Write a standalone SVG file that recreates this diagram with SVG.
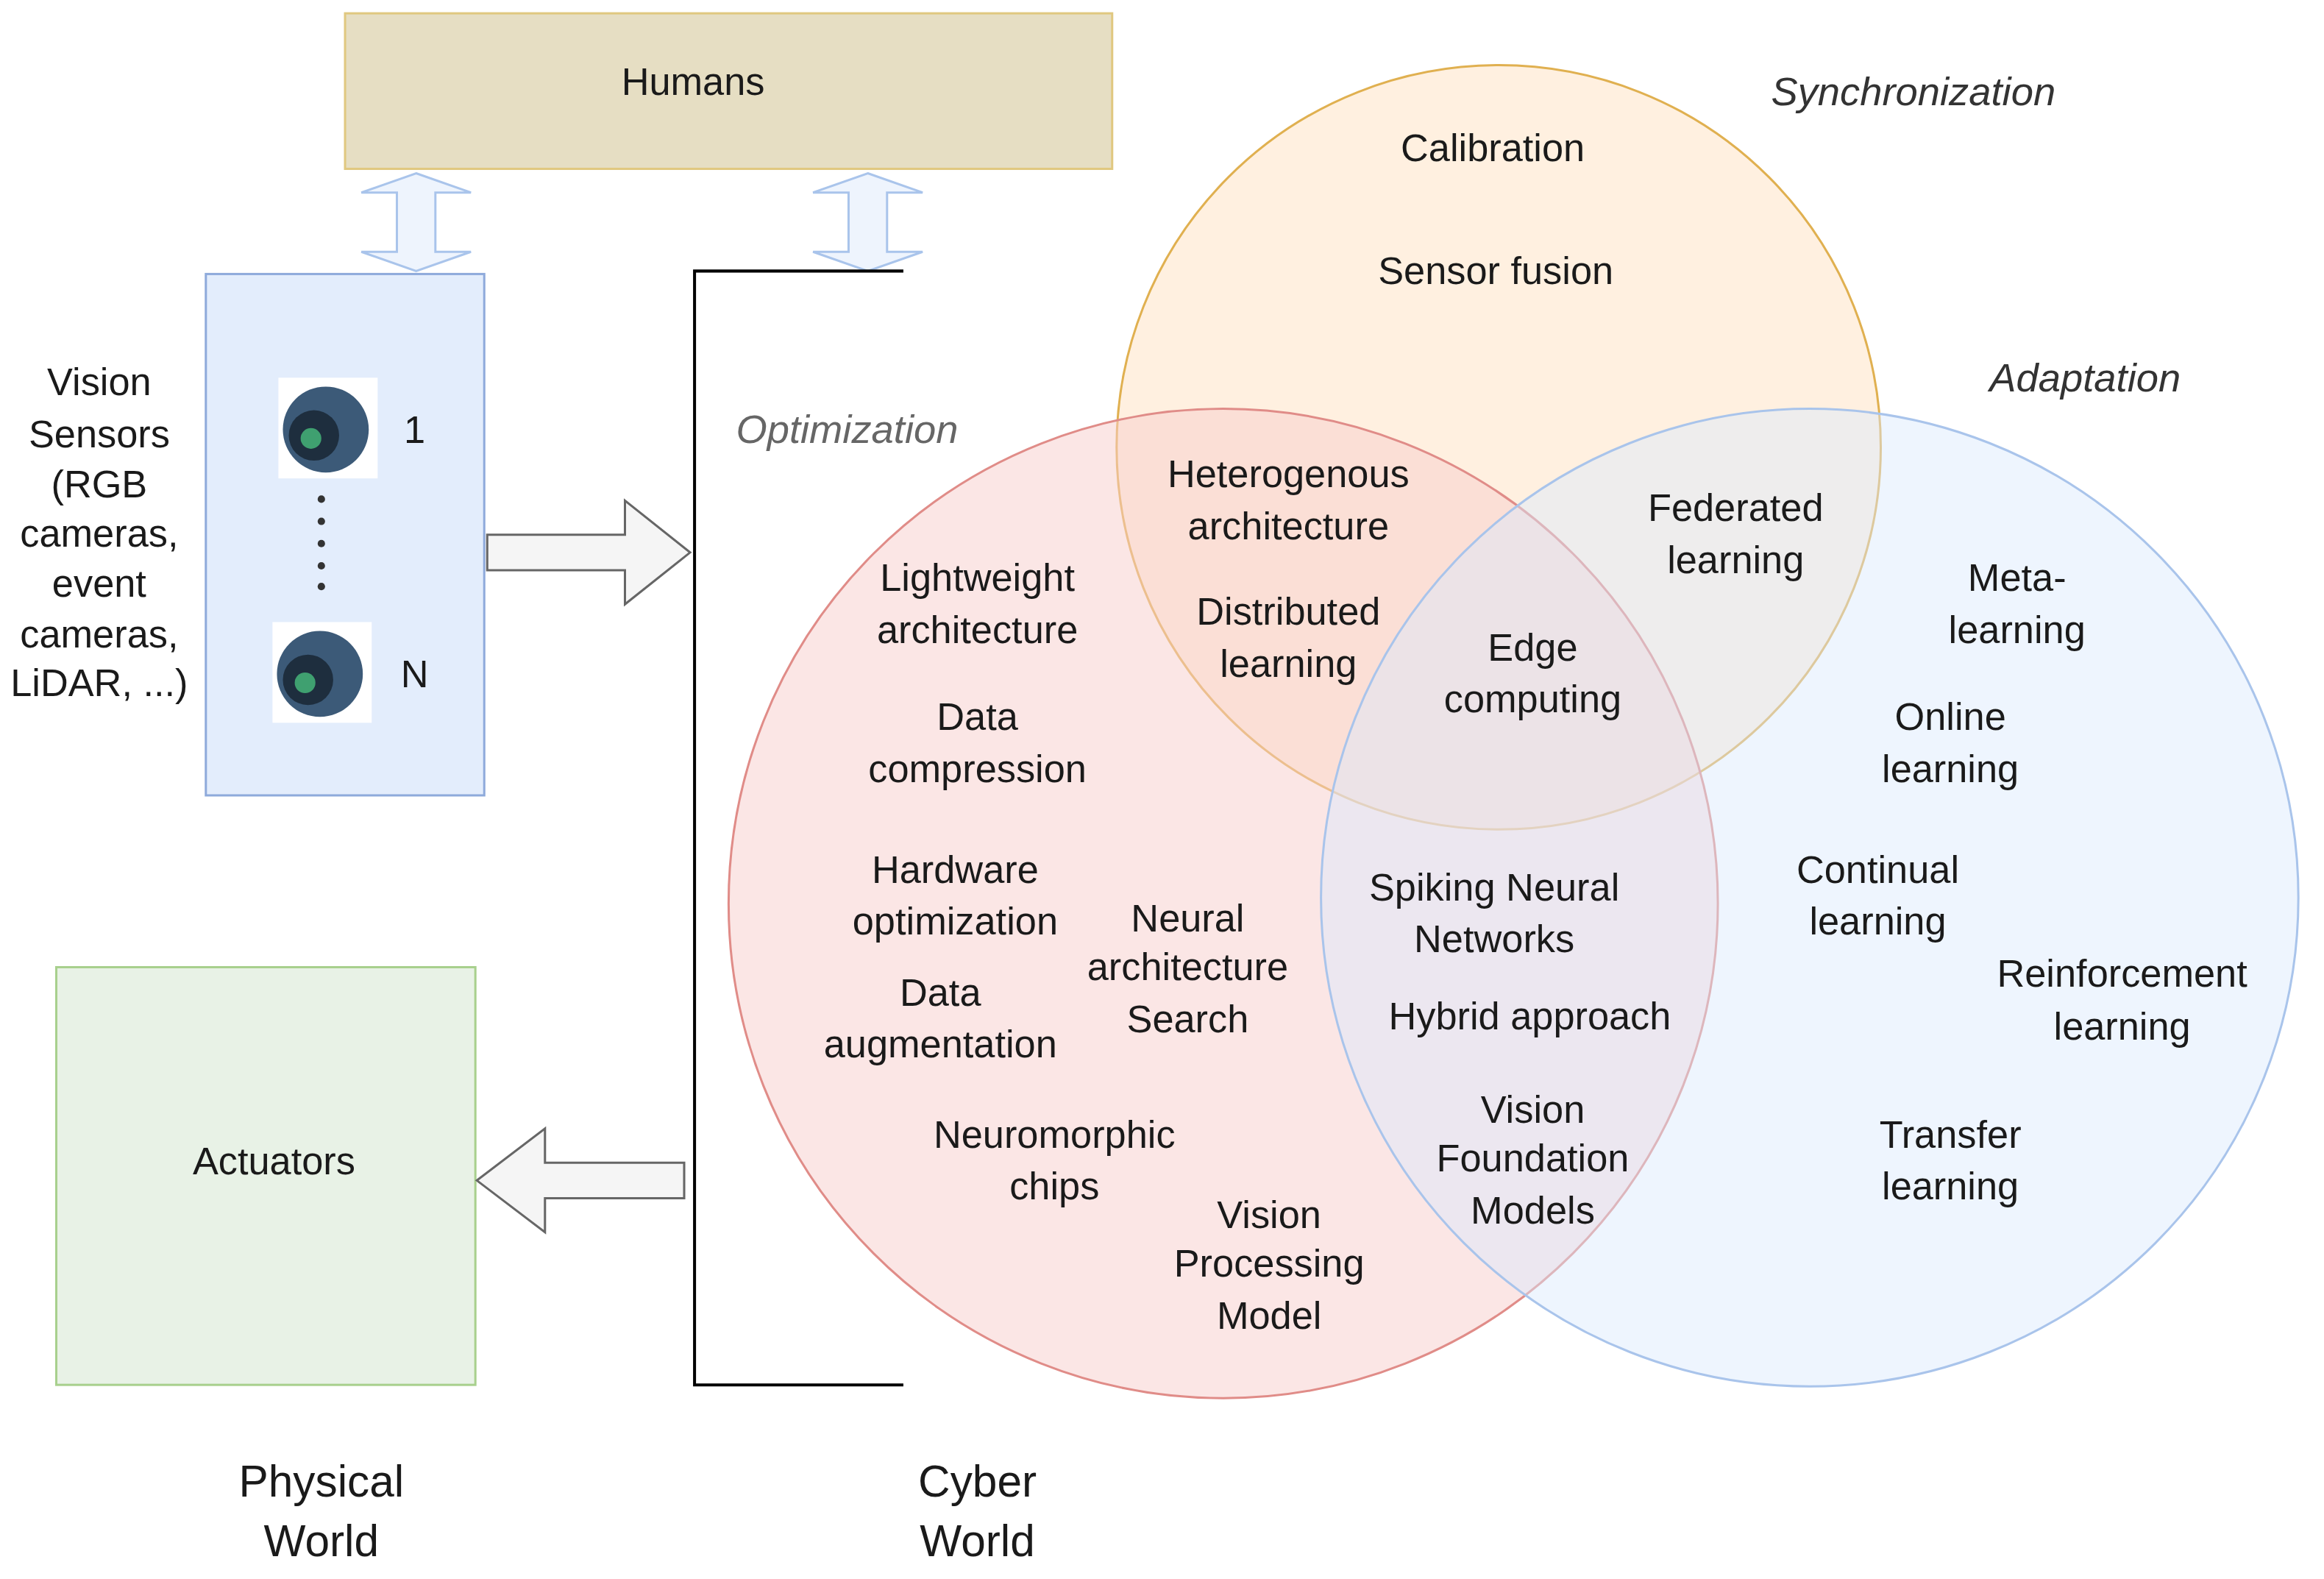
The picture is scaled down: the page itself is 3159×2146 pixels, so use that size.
<svg xmlns="http://www.w3.org/2000/svg" width="3159" height="2146" viewBox="0 0 3159 2146">
<style>
text{font-family:"Liberation Sans",Arial,sans-serif;font-size:26px;fill:#1a1a1a;text-anchor:middle;dominant-baseline:central}
.it{font-style:italic;fill:#333;font-size:27px}
.big{font-size:30px}
.arr{fill:#f5f5f5;stroke:#666;stroke-width:1.5}
.dbl{fill:#eef4fd;stroke:#a9c4eb;stroke-width:1.5}
</style>
<rect width="3159" height="2146" fill="#fff"/>
<g transform="scale(2.013)">
<g id="circles">
<circle id="sync" cx="1012" cy="302" r="258" fill="#ffe6cc" fill-opacity="0.6" stroke="#e0b050" stroke-width="1.5"/>
<circle id="opt" cx="826" cy="610" r="334" fill="#f8cecc" fill-opacity="0.5" stroke="#e08c88" stroke-width="1.5"/>
<circle id="adapt" cx="1222" cy="606" r="330" fill="#dae8fc" fill-opacity="0.45" stroke="#a9c4eb" stroke-width="1.5"/>
</g>
<g id="humans"><rect x="233" y="9" width="518" height="105" fill="#e6dec3" stroke="#e0c880" stroke-width="1.5"/><text x="468" y="55">Humans</text></g>
<g id="sensors">
<rect x="139" y="185" width="188" height="352" fill="#e3edfc" stroke="#8eaadb" stroke-width="1.5"/>
<rect x="188" y="255" width="67" height="68" fill="#fff"/>
<circle cx="220" cy="290" r="29" fill="#3c5a78"/><circle cx="212" cy="294" r="17" fill="#1e2e3e"/><circle cx="210" cy="296" r="7" fill="#3fa070"/>
<rect x="184" y="420" width="67" height="68" fill="#fff"/>
<circle cx="216" cy="455" r="29" fill="#3c5a78"/><circle cx="208" cy="459" r="17" fill="#1e2e3e"/><circle cx="206" cy="461" r="7" fill="#3fa070"/>
<text x="280" y="290">1</text><text x="280" y="455">N</text>
<g fill="#333"><circle cx="217" cy="337" r="2.5"/><circle cx="217" cy="352" r="2.5"/><circle cx="217" cy="367" r="2.5"/><circle cx="217" cy="382" r="2.5"/><circle cx="217" cy="396" r="2.5"/></g>
<text x="67" y="258">Vision</text><text x="67" y="293">Sensors</text><text x="67" y="327">(RGB</text><text x="67" y="360">cameras,</text><text x="67" y="394">event</text><text x="67" y="428">cameras,</text><text x="67" y="461">LiDAR, ...)</text>
</g>
<g id="actuators"><rect x="38" y="653" width="283" height="282" fill="#e8f2e6" stroke="#a8d08d" stroke-width="1.5"/><text x="185" y="784">Actuators</text></g>
<g id="connectors">
<path class="dbl" d="M281 117 L318 130 L294 130 L294 170 L318 170 L281 183 L244 170 L268 170 L268 130 L244 130 Z"/>
<path class="dbl" d="M586 117 L623 130 L599 130 L599 170 L623 170 L586 183 L549 170 L573 170 L573 130 L549 130 Z"/>
<path class="arr" d="M329 361 L422 361 L422 338 L466 373 L422 408 L422 385 L329 385 Z"/>
<path class="arr" d="M462 785 L368 785 L368 762 L322 797 L368 832 L368 809 L462 809 Z"/>
<path d="M610 183 L469 183 L469 935 L610 935" fill="none" stroke="#000" stroke-width="2"/>
</g>
<g id="labels">
<text x="1292" y="62" class="it">Synchronization</text>
<text x="1408" y="255" class="it">Adaptation</text>
<text x="572" y="290" class="it" style="fill:#666">Optimization</text>
<text x="1008" y="100">Calibration</text>
<text x="1010" y="183">Sensor fusion</text>
<text x="870" y="320">Heterogenous</text><text x="870" y="355">architecture</text>
<text x="1172" y="343">Federated</text><text x="1172" y="378">learning</text>
<text x="1362" y="390">Meta-</text><text x="1362" y="425">learning</text>
<text x="660" y="390">Lightweight</text><text x="660" y="425">architecture</text>
<text x="870" y="413">Distributed</text><text x="870" y="448">learning</text>
<text x="1035" y="437">Edge</text><text x="1035" y="472">computing</text>
<text x="1317" y="484">Online</text><text x="1317" y="519">learning</text>
<text x="660" y="484">Data</text><text x="660" y="519">compression</text>
<text x="645" y="587">Hardware</text><text x="645" y="622">optimization</text>
<text x="1268" y="587">Continual</text><text x="1268" y="622">learning</text>
<text x="1009" y="599">Spiking Neural</text><text x="1009" y="634">Networks</text>
<text x="802" y="620">Neural</text><text x="802" y="653">architecture</text><text x="802" y="688">Search</text>
<text x="1433" y="657">Reinforcement</text><text x="1433" y="693">learning</text>
<text x="635" y="670">Data</text><text x="635" y="705">augmentation</text>
<text x="1033" y="686">Hybrid approach</text>
<text x="1035" y="749">Vision</text><text x="1035" y="782">Foundation</text><text x="1035" y="817">Models</text>
<text x="1317" y="766">Transfer</text><text x="1317" y="801">learning</text>
<text x="712" y="766">Neuromorphic</text><text x="712" y="801">chips</text>
<text x="857" y="820">Vision</text><text x="857" y="853">Processing</text><text x="857" y="888">Model</text>
<text x="217" y="1000" class="big">Physical</text><text x="217" y="1040" class="big">World</text>
<text x="660" y="1000" class="big">Cyber</text><text x="660" y="1040" class="big">World</text>
</g>
</g>
</svg>
